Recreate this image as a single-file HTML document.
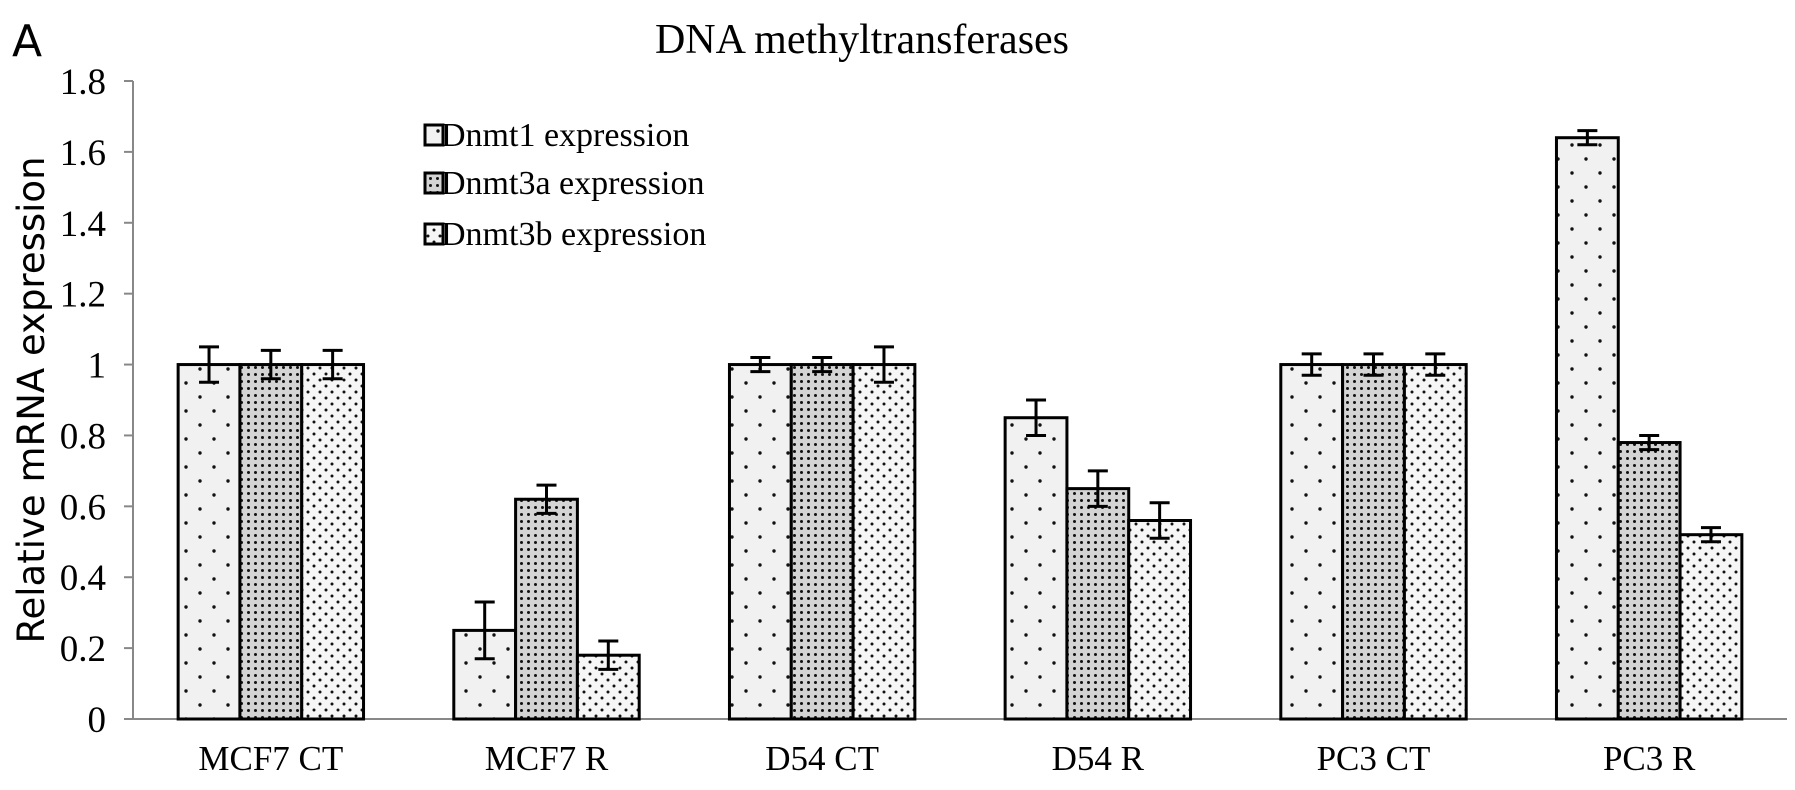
<!DOCTYPE html>
<html><head><meta charset="utf-8"><style>
html,body{margin:0;padding:0;background:#fff;}
svg{display:block;}
</style></head><body>
<svg id="chart" width="1795" height="790" xmlns="http://www.w3.org/2000/svg">
<defs>
<pattern id="p1" width="28" height="28" patternUnits="userSpaceOnUse">
<rect width="28" height="28" fill="#f1f1f1"/>
<circle cx="4" cy="5" r="1.7" fill="#111"/><circle cx="18" cy="19" r="1.7" fill="#111"/>
</pattern>
<pattern id="p2" width="7" height="7" patternUnits="userSpaceOnUse">
<rect width="7" height="7" fill="#d4d4d4"/>
<circle cx="3.5" cy="3.5" r="1.5" fill="#111"/>
</pattern>
<pattern id="p3" width="12" height="12" patternUnits="userSpaceOnUse">
<rect width="12" height="12" fill="#f6f6f6"/>
<circle cx="2" cy="2" r="1.5" fill="#111"/><circle cx="8" cy="8" r="1.5" fill="#111"/>
</pattern>
</defs>
<text x="12" y="56" font-family="'DejaVu Sans', sans-serif" font-size="44">A</text>
<text x="862" y="53" text-anchor="middle" font-family="'Liberation Serif', serif" font-size="42">DNA methyltransferases</text>
<text transform="translate(44,400) rotate(-90)" text-anchor="middle" font-family="'DejaVu Sans', sans-serif" font-size="37">Relative mRNA expression</text>
<g id="axes"></g>
<g id="bars"></g>
<g id="legend"></g>
</svg>
<script>
const categories = ["MCF7 CT","MCF7 R","D54 CT","D54 R","PC3 CT","PC3 R"];
const seriesNames = ["Dnmt1 expression","Dnmt3a expression","Dnmt3b expression"];
const dnmt1 = [1,0.25,1,0.85,1,1.64];
const dnmt3a = [1,0.62,1,0.65,1,0.78];
const dnmt3b = [1,0.18,1,0.56,1,0.52];
const err1 = [0.05,0.08,0.02,0.05,0.03,0.02];
const err3a = [0.04,0.04,0.02,0.05,0.03,0.02];
const err3b = [0.04,0.04,0.05,0.05,0.03,0.02];
const yTicks = [0,0.2,0.4,0.6,0.8,1,1.2,1.4,1.6,1.8];
const yTickLabels = ["0","0.2","0.4","0.6","0.8","1","1.2","1.4","1.6","1.8"];

const NS="http://www.w3.org/2000/svg";
const X0=133,X1=1787,Y0=719,Ytop=81,YMAX=1.8;
const y=v=>Y0-(v/YMAX)*(Y0-Ytop);
const step=(X1-X0)/categories.length;
const xc=i=>X0+step*(i+0.5);
const BW=61.8;
function mk(tag,attrs,parent){const e=document.createElementNS(NS,tag);for(const k in attrs)e.setAttribute(k,attrs[k]);parent.appendChild(e);return e;}
const axes=document.getElementById('axes'),bars=document.getElementById('bars'),legend=document.getElementById('legend');
let a=mk('line',{x1:X0,y1:Ytop,x2:X0,y2:Y0,stroke:'#888','stroke-width':2},axes);


a=mk('line',{x1:X0,y1:Y0,x2:X1,y2:Y0,stroke:'#888','stroke-width':2},axes);


yTicks.forEach((t,i)=>{
  const tk=mk('line',{x1:X0-9,y1:y(t),x2:X0,y2:y(t),stroke:'#888','stroke-width':2},axes);
  
  
  const tl=mk('text',{x:106,y:y(t)+13,'text-anchor':'end','font-family':"'Liberation Serif', serif",'font-size':37},axes);
  tl.textContent=yTickLabels[i];
  
  
});
categories.forEach((c,i)=>{
  const tl=mk('text',{x:xc(i),y:770,'text-anchor':'middle','font-family':"'Liberation Serif', serif",'font-size':35},axes);
  tl.textContent=c;
  
  
});
const series=[dnmt1,dnmt3a,dnmt3b],errs=[err1,err3a,err3b],fills=['url(#p1)','url(#p2)','url(#p3)'];
series.forEach((s,k)=>{
  s.forEach((v,i)=>{
    const x=xc(i)-1.5*BW+k*BW;
    const r=mk('rect',{x:x,y:y(v),width:BW,height:Y0-y(v),fill:fills[k],stroke:'#000','stroke-width':3},bars);
    
    
    const cx=x+BW/2,e=errs[k][i];
    const g=mk('path',{d:`M${cx-10},${y(v+e)}H${cx+10}M${cx},${y(v+e)}V${y(v-e)}M${cx-10},${y(v-e)}H${cx+10}`,stroke:'#000','stroke-width':3,fill:'none'},bars);
    
    
  });
});
const ly=[135,183,234];
seriesNames.forEach((n,k)=>{
  const r=mk('rect',{x:425,y:ly[k]-10,width:18,height:20,fill:fills[k],stroke:'#000','stroke-width':3},legend);
  
  
  const t=mk('text',{x:441,y:ly[k]+11,'font-family':"'Liberation Serif', serif",'font-size':34},legend);
  t.textContent=n;
  
  
});
</script>
</body></html>
